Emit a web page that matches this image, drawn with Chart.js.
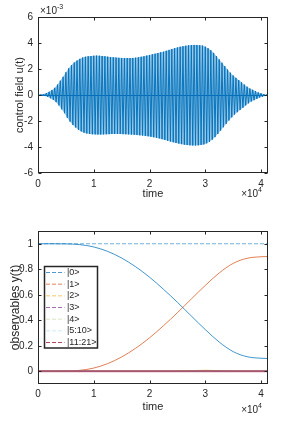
<!DOCTYPE html>
<html>
<head>
<meta charset="utf-8">
<script src="https://cdn.jsdelivr.net/npm/chart.js@4.4.0/dist/chart.umd.min.js"></script>
<style>
  html, body { margin: 0; padding: 0; background: #fff; }
  #wrap { position: relative; width: 294px; height: 427px; overflow: hidden; }
  .painel { position: absolute; left: 0; width: 294px; }
</style>
</head>
<body>
<div id="wrap">
  <div class="painel" style="top:0;height:205px"><canvas id="graficoCampo"></canvas></div>
  <div class="painel" style="top:205px;height:222px"><canvas id="graficoObs"></canvas></div>
</div>
<script>
// ---- dados ----
// campo de controle: envelope (x10^-3) a cada 500 unidades de tempo
const campoPasso = 500;
const campoSuperior = [0, 0.03, 0.08, 0.15, 0.25, 0.38, 0.55, 0.8, 1.1, 1.4,
  1.75, 2.05, 2.3, 2.5, 2.65, 2.78, 2.88, 2.94, 2.98, 3.0,
  3.02, 3.03, 3.02, 3.0, 2.98, 2.95, 2.92, 2.9, 2.88, 2.86,
  2.85, 2.84, 2.84, 2.84, 2.85, 2.87, 2.9, 2.94, 2.98, 3.03,
  3.08, 3.13, 3.18, 3.23, 3.28, 3.33, 3.4, 3.47, 3.54, 3.6,
  3.66, 3.71, 3.75, 3.79, 3.82, 3.84, 3.85, 3.85, 3.83, 3.8,
  3.72, 3.6, 3.44, 3.24, 3.0, 2.74, 2.48, 2.22, 1.96, 1.72,
  1.5, 1.32, 1.15, 0.98, 0.8, 0.64, 0.5, 0.4, 0.3, 0.2,
  0.13, 0.07, 0.03];
const campoInferior = [0, 0.03, 0.08, 0.15, 0.25, 0.38, 0.55, 0.8, 1.1, 1.4,
  1.75, 2.05, 2.3, 2.5, 2.68, 2.8, 2.9, 2.96, 3.0, 3.02,
  3.03, 3.04, 3.04, 3.03, 3.02, 3.01, 3.0, 3.0, 3.0, 3.0,
  3.01, 3.02, 3.03, 3.04, 3.06, 3.08, 3.1, 3.12, 3.15, 3.18,
  3.21, 3.25, 3.29, 3.34, 3.4, 3.46, 3.52, 3.58, 3.64, 3.69,
  3.74, 3.78, 3.82, 3.85, 3.87, 3.88, 3.88, 3.87, 3.84, 3.8,
  3.72, 3.6, 3.44, 3.24, 3.0, 2.74, 2.48, 2.22, 1.96, 1.72,
  1.5, 1.32, 1.15, 0.98, 0.8, 0.64, 0.5, 0.4, 0.3, 0.2,
  0.13, 0.07, 0.03];

// observaveis
const obsTempo = [0, 2500, 5000, 7500, 10000, 12500, 15000, 17500, 20000, 22500,
  25000, 27500, 30000, 32500, 35000, 37500, 40000, 41250];
const pop0 = [1, 1, 0.999, 0.993, 0.975, 0.94, 0.888, 0.82, 0.738, 0.643,
  0.541, 0.433, 0.327, 0.229, 0.154, 0.114, 0.102, 0.1];
const pop1 = [0, 0, 0.001, 0.007, 0.025, 0.06, 0.112, 0.18, 0.262, 0.357,
  0.459, 0.567, 0.673, 0.771, 0.846, 0.886, 0.898, 0.9];
const pop2 = [0, 0, 0, 0, 0, 0, 0, 0, 0, 0, 0.001, 0.003, 0.005, 0.003, 0.001, 0, 0, 0];
const pop3 = [0, 0, 0, 0, 0, 0, 0, 0, 0, 0, 0, 0, 0, 0, 0, 0, 0, 0];
const pop4 = [0, 0, 0, 0, 0, 0, 0, 0, 0, 0, 0, 0, 0, 0, 0, 0, 0, 0];
const pop5a10 = [0, 0, 0, 0, 0, 0, 0, 0, 0, 0, 0, 0, 0, 0, 0, 0, 0, 0];
const pop11a21 = [0, 0, 0, 0, 0, 0, 0, 0, 0, 0, 0, 0, 0, 0, 0, 0, 0, 0];
const popTotal = [1, 1, 1, 1, 1, 1, 1, 1, 1, 1, 1, 1, 1, 1, 1, 1, 1, 1];
const nomesEstados = ['|0>', '|1>', '|2>', '|3>', '|4>', '|5:10>', '|11:21>'];

// ticks
const tempoTicks = [0, 10000, 20000, 30000, 40000];
const campoTicks = [-6, -4, -2, 0, 2, 4, 6];
const obsTicks = [0, 0.2, 0.4, 0.6, 0.8, 1];

// ---- estilo ----
Chart.defaults.font.family = "'Liberation Sans', Arial, sans-serif";
Chart.defaults.color = '#262626';
const corEixo = '#262626';

function linha(ctx, x1, y1, x2, y2) {
  ctx.beginPath();
  ctx.moveTo(x1, y1);
  ctx.lineTo(x2, y2);
  ctx.stroke();
}

function escreveExpoente(ctx, x, y, expo, alinhaDireita) {
  ctx.font = "10px 'Liberation Sans', Arial, sans-serif";
  const base = '\u00d710';
  const wBase = ctx.measureText(base).width;
  ctx.font = "7px 'Liberation Sans', Arial, sans-serif";
  const wExpo = ctx.measureText(expo).width;
  let x0 = alinhaDireita ? x - wBase - wExpo : x;
  ctx.fillStyle = corEixo;
  ctx.textAlign = 'left';
  ctx.textBaseline = 'alphabetic';
  ctx.font = "10px 'Liberation Sans', Arial, sans-serif";
  ctx.fillText(base, x0, y);
  ctx.font = "7px 'Liberation Sans', Arial, sans-serif";
  ctx.fillText(expo, x0 + wBase, y - 5);
}

// caixa estilo matlab com ticks para dentro
const caixaMatlab = {
  id: 'caixaMatlab',
  afterDatasetsDraw(chart, args, opts) {
    const { ctx, chartArea: a, scales } = chart;
    ctx.save();
    ctx.strokeStyle = corEixo;
    ctx.lineWidth = 1;
    const l = Math.round(a.left) + 0.5, r = Math.round(a.right) - 0.5;
    const t = Math.round(a.top) + 0.5, b = Math.round(a.bottom) - 0.5;
    ctx.strokeRect(l, t, r - l, b - t);
    scales.x.ticks.forEach(tk => {
      const px = Math.round(scales.x.getPixelForValue(tk.value)) + 0.5;
      linha(ctx, px, b, px, b - 3);
      linha(ctx, px, t, px, t + 3);
    });
    scales.y.ticks.forEach(tk => {
      const py = Math.round(scales.y.getPixelForValue(tk.value)) + 0.5;
      linha(ctx, l, py, l + 3, py);
      linha(ctx, r, py, r - 3, py);
    });
    ctx.restore();
  },
  afterDraw(chart, args, opts) {
    const { ctx, chartArea: a } = chart;
    ctx.save();
    if (opts.expoX) escreveExpoente(ctx, a.right - 6, a.bottom + opts.expoXdy, opts.expoX, true);
    if (opts.expoY) escreveExpoente(ctx, a.left + 2, a.top - 3, opts.expoY, false);
    ctx.restore();
  }
};

// legenda dentro do grafico
const legendaMatlab = {
  id: 'legendaMatlab',
  afterDraw(chart, args, opts) {
    if (!opts.display) return;
    const { ctx, chartArea: a } = chart;
    const itens = chart.data.datasets.filter(d => d.label);
    const x = a.left + 6.5, y = a.top + 35.5, w = 53, h = 81.5;
    ctx.save();
    ctx.fillStyle = '#fff';
    ctx.fillRect(x, y, w, h);
    ctx.strokeStyle = corEixo;
    ctx.lineWidth = 1.5;
    ctx.strokeRect(x, y, w, h);
    ctx.font = "9px 'Liberation Sans', Arial, sans-serif";
    ctx.textBaseline = 'middle';
    ctx.textAlign = 'left';
    itens.forEach((d, i) => {
      const yy = y + 6 + i * 11.67;
      ctx.strokeStyle = d.corLegenda;
      ctx.lineWidth = 1;
      ctx.setLineDash([4, 2]);
      linha(ctx, x + 1.5, yy, x + 20, yy);
      ctx.setLineDash([]);
      ctx.fillStyle = corEixo;
      ctx.fillText(d.label, x + 22.5, yy);
    });
    ctx.restore();
  }
};

// ---- grafico do campo de controle ----
const pontosCampo = [];
campoSuperior.forEach((v, i) => {
  pontosCampo.push({ x: i * campoPasso, y: v });
  pontosCampo.push({ x: i * campoPasso + campoPasso / 2, y: -campoInferior[i] });
});
const envelopeSup = campoSuperior.map((v, i) => ({ x: i * campoPasso, y: v }));
const envelopeInf = campoInferior.map((v, i) => ({ x: i * campoPasso + campoPasso / 2, y: -v }));

const graficoCampo = document.getElementById('graficoCampo');
new Chart(graficoCampo, {
  type: 'line',
  data: {
    datasets: [{
      data: pontosCampo,
      borderColor: 'rgba(0, 114, 189, 0.95)',
      borderWidth: 1,
      pointRadius: 0,
      tension: 0,
      order: 0
    }, {
      data: envelopeSup,
      borderWidth: 0,
      pointRadius: 0,
      backgroundColor: 'rgba(0, 114, 189, 0.4)',
      fill: '+1',
      order: 1
    }, {
      data: envelopeInf,
      borderWidth: 0,
      pointRadius: 0,
      fill: false,
      order: 2
    }]
  },
  options: {
    responsive: true,
    maintainAspectRatio: false,
    animation: false,
    layout: { padding: { top: 17, right: 26, left: 0, bottom: 0 } },
    plugins: {
      legend: { display: false },
      tooltip: { enabled: false },
      filler: { propagate: false },
      caixaMatlab: { expoX: '4', expoXdy: 24, expoY: '-3' }
    },
    scales: {
      x: {
        type: 'linear', min: 0, max: 41250,
        afterBuildTicks: s => { s.ticks = tempoTicks.map(v => ({ value: v })); },
        afterFit: s => { s.height = 32; },
        ticks: { callback: v => v / 10000, maxRotation: 0, padding: 5, font: { size: 10 } },
        grid: { display: false, drawTicks: false },
        border: { display: false },
        title: { display: true, text: 'time', font: { size: 11 }, padding: { top: 0, bottom: 4 } }
      },
      y: {
        min: -6, max: 6,
        afterBuildTicks: s => { s.ticks = campoTicks.map(v => ({ value: v })); },
        afterFit: s => { s.width = 38; },
        ticks: { padding: 5, font: { size: 10 } },
        grid: {
          drawTicks: false,
          lineWidth: 1,
          color: c => (c.tick && c.tick.value === 0) ? 'rgba(0, 90, 170, 0.9)' : 'rgba(0,0,0,0)'
        },
        border: { display: false },
        title: { display: true, text: 'control field u(t)', font: { size: 11 }, padding: { top: 13, bottom: 0 } }
      }
    }
  },
  plugins: [caixaMatlab]
});

// ---- grafico dos observaveis ----
const coresLinha = ['rgba(0,114,189,0.75)', 'rgba(217,83,25,0.75)', 'rgba(237,177,32,0.75)',
  'rgba(126,47,142,0.75)', 'rgba(119,172,48,0.45)', 'rgba(77,190,238,0.45)', 'rgba(190,60,95,0.7)'];
const coresLegenda = ['rgba(0,114,189,0.7)', 'rgba(217,83,25,0.7)', 'rgba(237,177,32,0.7)',
  'rgba(126,47,142,0.7)', 'rgba(119,172,48,0.3)', 'rgba(77,190,238,0.3)', 'rgba(162,20,47,0.8)'];
const seriesPop = [pop0, pop1, pop2, pop3, pop4, pop5a10, pop11a21];

function paraPontos(valores) {
  return valores.map((v, i) => ({ x: obsTempo[i], y: v }));
}

const conjuntosObs = seriesPop.map((serie, i) => ({
  label: nomesEstados[i],
  data: paraPontos(serie),
  borderColor: coresLinha[i],
  corLegenda: coresLegenda[i],
  borderWidth: i < 2 ? 1 : (i === 6 ? 2 : 1.5),
  pointRadius: 0,
  cubicInterpolationMode: 'monotone',
  order: 10 - i
}));
conjuntosObs.push({
  data: paraPontos(popTotal),
  borderColor: 'rgba(0,114,189,0.55)',
  borderWidth: 1.2,
  borderDash: [4, 2],
  pointRadius: 0,
  order: 20
});

const graficoObs = document.getElementById('graficoObs');
new Chart(graficoObs, {
  type: 'line',
  data: { datasets: conjuntosObs },
  options: {
    responsive: true,
    maintainAspectRatio: false,
    animation: false,
    layout: { padding: { top: 26, right: 26, left: 0, bottom: 0 } },
    plugins: {
      legend: { display: false },
      tooltip: { enabled: false },
      caixaMatlab: { expoX: '4', expoXdy: 29 },
      legendaMatlab: { display: true }
    },
    scales: {
      x: {
        type: 'linear', min: 0, max: 41250,
        afterBuildTicks: s => { s.ticks = tempoTicks.map(v => ({ value: v })); },
        afterFit: s => { s.height = 43; },
        ticks: { callback: v => v / 10000, maxRotation: 0, padding: 4, font: { size: 10 } },
        grid: { display: false, drawTicks: false },
        border: { display: false },
        title: { display: true, text: 'time', font: { size: 11 }, padding: { top: 0, bottom: 13 } }
      },
      y: {
        min: -0.1, max: 1.1,
        afterBuildTicks: s => { s.ticks = obsTicks.map(v => ({ value: v })); },
        afterFit: s => { s.width = 38; },
        ticks: { callback: v => String(v), padding: 5, font: { size: 10 } },
        grid: { display: false, drawTicks: false },
        border: { display: false },
        title: { display: true, text: 'observables y(t)', font: { size: 12 }, padding: { top: 8, bottom: 0 } }
      }
    }
  },
  plugins: [caixaMatlab, legendaMatlab]
});
</script>
</body>
</html>
